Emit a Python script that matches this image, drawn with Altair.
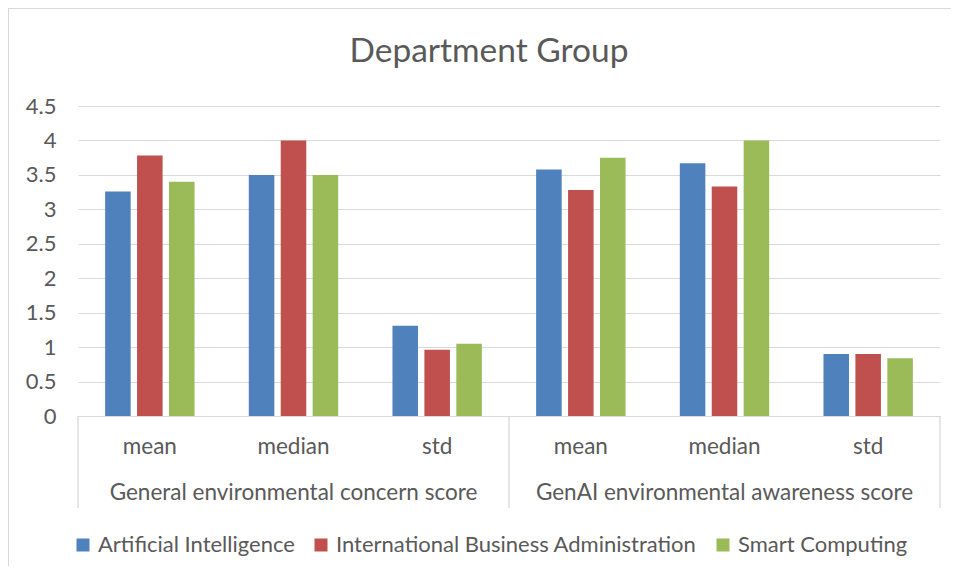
import altair as alt
import pandas as pd

groups = ["General environmental concern score", "GenAI environmental awareness score"]
stats = ["mean", "median", "std"]
depts = ["Artificial Intelligence", "International Business Administration", "Smart Computing"]
colors = ["#4F81BD", "#C0504D", "#9BBB59"]
title_text = ["Department Group"]

ai_vals = [3.26, 3.50, 1.31, 3.58, 3.67, 0.90]
iba_vals = [3.78, 4.00, 0.96, 3.28, 3.33, 0.90]
sc_vals = [3.40, 3.50, 1.05, 3.75, 4.00, 0.84]
series = [ai_vals, iba_vals, sc_vals]

keys = [f"{g}|{s}" for g in groups for s in stats]

rows = []
for d, vals in zip(depts, series):
    for k, v in zip(keys, vals):
        rows.append({"key": k, "dept": d, "value": v})
df = pd.DataFrame(rows)

lab_df = pd.DataFrame({"key": keys, "stat": [k.split("|")[1] for k in keys]})
grp_df = pd.DataFrame({"key": [f"{g}|median" for g in groups], "group": groups})
sep_left = pd.DataFrame({"key": [f"{g}|mean" for g in groups]})
sep_right = pd.DataFrame({"key": [f"{groups[-1]}|std"]})

W, H = 862, 310
FONT = "Lato"
GREY = "#595959"
LINE = "#d9d9d9"
FS = 22.5

xscale = alt.Scale(domain=keys, paddingInner=0, paddingOuter=0)

bars = alt.Chart(df).mark_bar().encode(
    x=alt.X("key:N", scale=xscale, sort=keys,
            axis=alt.Axis(labels=False, ticks=False, title=None, domainColor=LINE, grid=False)),
    xOffset=alt.XOffset("dept:N", sort=depts,
                        scale=alt.Scale(domain=depts, paddingInner=0.2, paddingOuter=0.85)),
    y=alt.Y("value:Q", scale=alt.Scale(domain=[0, 4.5]),
            axis=alt.Axis(values=[0, 0.5, 1, 1.5, 2, 2.5, 3, 3.5, 4, 4.5],
                          labelExpr="datum.value", title=None, domain=False, ticks=False,
                          gridColor=LINE, labelFontSize=22, labelColor=GREY,
                          labelPadding=22, labelFont=FONT)),
    color=alt.Color("dept:N", sort=depts, scale=alt.Scale(domain=depts, range=colors),
                    legend=alt.Legend(title=None, orient="none", legendX=-6, legendY=428,
                                      direction="horizontal", symbolType="square",
                                      symbolSize=169, labelFontSize=22, labelColor=GREY,
                                      labelFont=FONT, columnPadding=15, labelOffset=4,
                                      symbolStrokeWidth=0, labelLimit=0)),
)

stat_text = alt.Chart(lab_df).mark_text(fontSize=FS, color=GREY, font=FONT, baseline="middle").encode(
    x=alt.X("key:N", scale=xscale, sort=keys),
    y=alt.value(H + 31),
    text="stat:N",
)

grp_text = alt.Chart(grp_df).mark_text(fontSize=FS, color=GREY, font=FONT, baseline="middle").encode(
    x=alt.X("key:N", scale=xscale, sort=keys),
    y=alt.value(H + 77),
    text="group:N",
)

title = alt.Chart(pd.DataFrame({"t": title_text})).mark_text(
    fontSize=33.5, color=GREY, font=FONT, baseline="middle").encode(
    x=alt.value(411), y=alt.value(-54), text="t:N")

sep1 = alt.Chart(sep_left).mark_rule(color=LINE, strokeWidth=1.3).encode(
    x=alt.X("key:N", scale=xscale, sort=keys, bandPosition=0),
    y=alt.value(H),
    y2=alt.value(H + 92),
)
sep2 = alt.Chart(sep_right).mark_rule(color=LINE, strokeWidth=1.3).encode(
    x=alt.X("key:N", scale=xscale, sort=keys, bandPosition=1),
    y=alt.value(H),
    y2=alt.value(H + 92),
)

border_top = alt.Chart(pd.DataFrame({"a": [0]})).mark_rule(color=LINE, strokeWidth=2).encode(
    x=alt.value(-70), x2=alt.value(W + 20), y=alt.value(-98))
border_left = alt.Chart(pd.DataFrame({"a": [0]})).mark_rule(color=LINE, strokeWidth=2).encode(
    x=alt.value(-70), y=alt.value(-98), y2=alt.value(H + 160))

chart = alt.layer(bars, stat_text, grp_text, title, sep1, sep2, border_top, border_left).properties(
    width=W, height=H,
    autosize=alt.AutoSizeParams(type="none"),
    padding={"left": 70, "top": 98, "right": 11, "bottom": 150},
).configure_view(stroke=None)

chart.save("out.html", embed_options={"renderer": "svg", "actions": False})
